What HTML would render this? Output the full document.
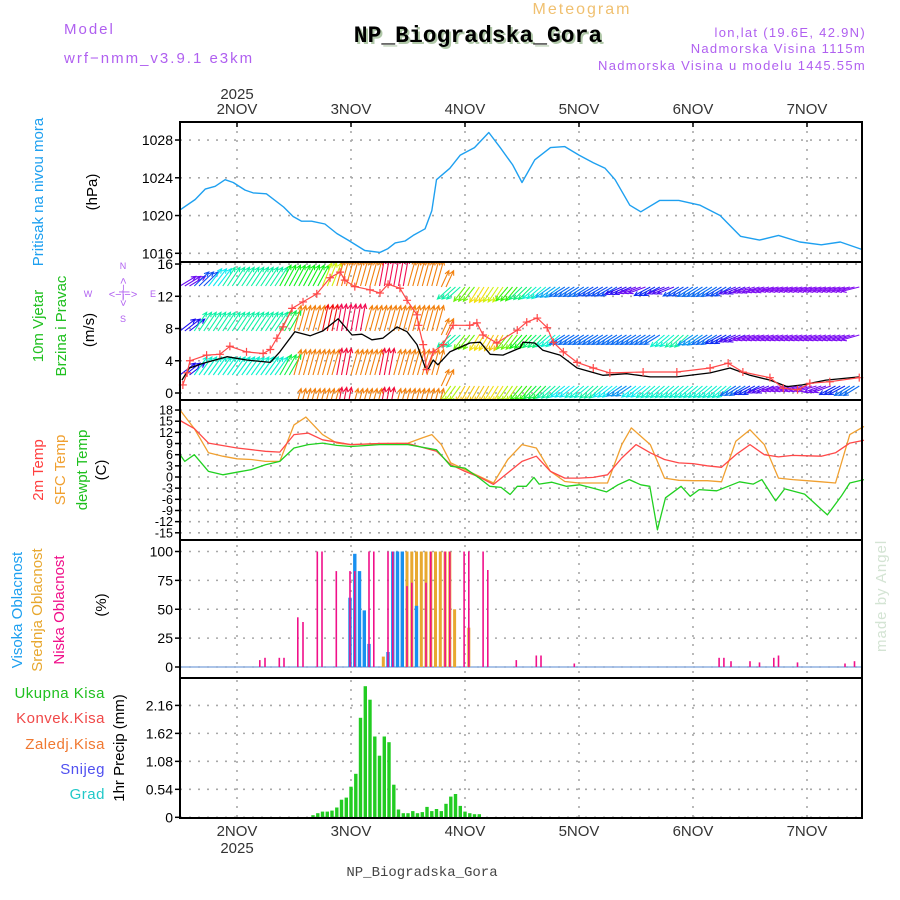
<!DOCTYPE html>
<html><head><meta charset="utf-8"><style>
html,body{margin:0;padding:0;background:#fff;}
svg{display:block;font-family:"Liberation Sans",sans-serif;}
</style></head><body>
<svg id="chart" width="900" height="900" viewBox="0 0 900 900" xmlns="http://www.w3.org/2000/svg">
<defs><clipPath id="windclip"><rect x="180" y="262" width="682" height="138"/></clipPath>
<clipPath id="plotclip"><rect x="180" y="122" width="682" height="696"/></clipPath></defs>
<g id="headers">
<text x="64" y="34" font-size="15" fill="#b060f0" letter-spacing="2">Model</text>
<text x="64" y="63" font-size="15" fill="#b060f0" letter-spacing="2">wrf−nmm_v3.9.1 e3km</text>
<text x="582" y="14" font-size="16" fill="#f0c070" letter-spacing="2" text-anchor="middle">Meteogram</text>
<text x="480" y="44" font-size="23" font-weight="bold" fill="#b0c8a8" text-anchor="middle" font-family="Liberation Mono, monospace">NP_Biogradska_Gora</text>
<text x="478" y="42" font-size="23" font-weight="bold" fill="#000" text-anchor="middle" font-family="Liberation Mono, monospace">NP_Biogradska_Gora</text>
<text x="866" y="37" font-size="13" fill="#b060f0" letter-spacing="1.3" text-anchor="end">lon,lat (19.6E, 42.9N)</text>
<text x="866" y="53" font-size="13" fill="#b060f0" letter-spacing="1.3" text-anchor="end">Nadmorska Visina 1115m</text>
<text x="866" y="70" font-size="13" fill="#b060f0" letter-spacing="1.3" text-anchor="end">Nadmorska Visina u modelu 1445.55m</text>
<text x="422" y="876" font-size="14" fill="#444" text-anchor="middle" font-family="Liberation Mono, monospace">NP_Biogradska_Gora</text>
<text transform="translate(886,652) rotate(-90)" font-size="15" fill="#d4e4d4" letter-spacing="1">made by Angel</text>
</g>
<g id="leftlabels">
<text transform="translate(43,192) rotate(-90)" font-size="15" fill="#1ea0f0" text-anchor="middle">Pritisak na nivou mora</text>
<text transform="translate(97,192) rotate(-90)" font-size="15" fill="#000" text-anchor="middle">(hPa)</text>
<text transform="translate(43,326) rotate(-90)" font-size="15" fill="#20c020" text-anchor="middle">10m Vjetar</text>
<text transform="translate(66,326) rotate(-90)" font-size="15" fill="#20c020" text-anchor="middle">Brzina i Pravac</text>
<text transform="translate(94,330) rotate(-90)" font-size="15" fill="#000" text-anchor="middle">(m/s)</text>
<g fill="#b060f0" font-size="9" text-anchor="middle">
<text x="123" y="269">N</text><text x="88" y="297">W</text><text x="153" y="297">E</text><text x="123" y="322">S</text>
<text x="123" y="298" font-size="11">&lt;−|−&gt;</text>
<text transform="translate(127,292) rotate(-90)" font-size="11" text-anchor="middle">&lt;−|−&gt;</text></g>
<text transform="translate(43,470) rotate(-90)" font-size="15" fill="#ff4040" text-anchor="middle">2m Temp</text>
<text transform="translate(65,470) rotate(-90)" font-size="15" fill="#f0a030" text-anchor="middle">SFC Temp</text>
<text transform="translate(87,470) rotate(-90)" font-size="15" fill="#20c020" text-anchor="middle">dewpt Temp</text>
<text transform="translate(106,470) rotate(-90)" font-size="15" fill="#000" text-anchor="middle">(C)</text>
<text transform="translate(22,610) rotate(-90)" font-size="15" fill="#1ea0f0" text-anchor="middle">Visoka Oblacnost</text>
<text transform="translate(42,610) rotate(-90)" font-size="15" fill="#e8a830" text-anchor="middle">Srednja Oblacnost</text>
<text transform="translate(64,610) rotate(-90)" font-size="15" fill="#f0108a" text-anchor="middle">Niska Oblacnost</text>
<text transform="translate(106,605) rotate(-90)" font-size="15" fill="#000" text-anchor="middle">(%)</text>
<g font-size="15" text-anchor="end" letter-spacing="0.5">
<text x="105" y="698" fill="#20c020">Ukupna Kisa</text>
<text x="105" y="723" fill="#f04848">Konvek.Kisa</text>
<text x="105" y="749" fill="#f07830">Zaledj.Kisa</text>
<text x="105" y="774" fill="#5050f0">Snijeg</text>
<text x="105" y="799" fill="#20c8c8">Grad</text></g>
<text transform="translate(124,748) rotate(-90)" font-size="15" fill="#000" text-anchor="middle">1hr Precip (mm)</text>
</g>
<g id="grid"></g>
<g id="marks"></g>
<g id="axes"></g>
</svg>
<script>
// ---------- data ----------
const dayLabels = ["2NOV","3NOV","4NOV","5NOV","6NOV","7NOV"];
const dayHours = [12,36,60,84,108,132];
const pressTicks = [1016,1020,1024,1028];
const windTicks = [0,4,8,12,16];
const tempTicks = [18,15,12,9,6,3,0,-3,-6,-9,-12,-15];
const cloudTicks = [0,25,50,75,100];
const precipTicks = ["0","0.54","1.08","1.62","2.16"];

const pressHours = [0,3.2,5.3,7.4,9.5,11.2,13.7,15.4,18.2,21.8,23.8,25.6,27.7,30.5,33,35.4,38.9,42.1,43.8,45.3,47.4,49.1,51.6,53,54,56.8,59,62,65,67.4,70,72,74.7,78,81,84,87,89.5,91.6,94.7,97,101,105,109.5,113.7,118,122,126,130.5,135,139,143.6];
const pressVals = [1020.6,1021.7,1022.8,1023.1,1023.8,1023.5,1022.7,1022.4,1022.3,1020.9,1019.9,1019.4,1019.4,1019.1,1018.1,1017.4,1016.3,1016.1,1016.5,1017.1,1017.3,1017.9,1018.6,1020.5,1023.8,1025,1026.4,1027.2,1028.8,1027.2,1025.4,1023.5,1025.9,1027.2,1027.3,1026.4,1025.6,1025,1023.8,1021.1,1020.4,1021.6,1021.6,1021.1,1020,1017.8,1017.4,1017.9,1017.2,1016.9,1017.2,1016.4];

const windHours = [0.4,2,4.9,9.9,14,19,21,24.2,27.4,30.1,33.3,36.2,38.3,40.4,42.7,45.7,47.8,49.9,51.6,52.2,53.3,54.3,56.8,61,63.2,65.3,68,71.6,72.2,74.7,76.4,80,83.6,89,94,99,104.6,111.6,115.8,120,124.2,127.8,131,136,143];
const windVals = [1.6,3.1,3.7,4.5,4.1,3.8,5.1,7.6,7.1,7.7,9.2,7.2,7.3,6.6,6.8,8.2,7.6,6,3.2,2.9,4.1,3.5,5.1,6.2,6.3,4.8,4.7,5.6,6.3,6.2,5.3,4.7,3.1,2.2,2.4,2,2,2.5,3.1,2.2,1.6,0.8,1,1.6,2];
const gustHours = [0.6,1.5,2.1,5.6,8.4,10.5,14,17.5,19,20.4,21.7,23.6,25.9,28.8,31.6,33.7,34.7,36.8,40,42.1,43.8,46.3,47.8,49.9,50.2,51.2,51.9,53.3,55.4,57.5,61,62.5,63.8,66.7,71,73,75.2,77.3,78.6,80.7,83.6,87,90.5,97.5,104.6,111.6,115.4,118.5,124.2,127,130,132.6,136.8,143];
const gustVals = [1,2.5,4,4.7,4.8,5.8,5.1,4.9,5.4,6.8,8.2,10.5,11.3,12.3,14.3,15,14,13.2,12.8,12.4,13.5,13,11.5,9.7,8.4,6,2.9,5.1,6,8.4,8.4,8.7,7.2,6.2,7.8,8.8,9.3,8.1,6.3,5.1,3.8,3.1,2.5,2.6,2.6,3.1,3.7,2.6,1.9,0.6,0.4,1.2,1.4,1.9];

// wind directions (deg, from) per 3-hour block, h = 3*i
const dirTop = [250,240,232,228,228,228,228,222,222,222,214,205,205,205,197,197,205,205,205,48,38,32,34,40,46,50,55,58,58,60,60,66,70,62,68,60,58,58,60,68,72,74,76,76,76,76,76,76];
const dirMid = [245,228,228,228,228,228,228,224,205,205,200,197,197,205,205,205,205,205,205,48,38,32,30,38,42,46,50,58,58,58,58,58,58,58,50,48,56,58,62,68,74,74,74,74,74,74,74,74];
const dirBot = [245,230,230,230,230,230,230,224,205,205,205,198,205,205,198,205,205,205,205,35,30,30,32,35,40,44,48,52,50,48,52,56,52,50,50,50,50,50,50,58,62,68,74,74,74,70,62,58];

const tempHours = [0,3,6,12,18,21,24,27,30,36,42,48,54,57,60,63,66,69,72,75,78,81,84,87,90,93,96,99,102,105,108,111,114,117,120,123,126,129,132,135,138,141,144];
const t2mVals = [15.2,13,9.1,7.8,6.9,6.7,11.4,11.8,10,8.7,9,9,6.9,3.3,1.5,0,-2,1.1,4.2,5.6,1.5,-0.3,-0.3,-0.1,0.6,5.1,8.7,6.5,4.7,3.8,3.6,3,2.6,6,8.7,6,5.4,5.8,5.7,5.6,6.5,9.1,9.9];
const sfcHours = [0,3,6,9,12,15,18,21,24,26.5,30,33,36,42,48,51,53,55,57,60,63,66,69,72,75,78,81,84,87,90,93,95,99,102,105,108,111,114,117,120,123,126,129,132,135,138,141,144];
const sfcVals = [18,13,6.5,5.6,4.9,4.7,4.2,4.2,14,16.1,11.4,9.1,8.7,9,9.1,10.5,11.4,8.7,3.8,2,0.2,-1.6,4.7,8.7,7.8,1.5,-1.2,-1.6,-1.6,-1.6,8.7,13.2,8.7,-0.3,-0.9,-1,-1,-1.3,9.6,12.7,8.7,-0.3,-0.7,-1,-1.3,-1.6,11.4,13.6];
const dewHours = [0,1,3,6,9,12,15,18,21,24,27,30,33,36,42,48,54,57,60,63,65.2,67.6,69.5,71,72.9,74.5,75.6,78.3,81.3,84.1,87,89.8,92.2,94.6,97,98.9,100.5,102.2,105.5,107.4,109.3,113,117.8,120.7,122.5,125.4,127.3,131.5,136.3,139.2,141,144];
const dewVals = [6,4.2,6,1.5,0.6,1.3,2,3.3,4.2,7.8,8.7,9.1,8.5,8.2,8.7,8.7,7.3,2.9,2.4,-0.3,-2.5,-2.8,-4.7,-2.5,-2.5,-0.1,-1.9,-1.4,-2.5,-2.1,-3,-4,-2.1,-0.7,-2.1,-2.5,-14.2,-5.6,-2.5,-5.2,-3.4,-3.7,-1.3,-1.9,-0.7,-6.4,-3.2,-4.6,-10.2,-5.2,-1.6,-0.7];

const lowHours = [16.8,17.9,20.9,21.9,24.8,25.9,28.9,29.9,32.9,35.8,36.8,39.8,40.8,43.8,44.8,47.8,48.8,51.8,52.8,55.8,56.8,59.8,60.8,63.8,64.8,70.8,75,76,83,113.5,114.5,116,120,122,125,126,130,140,142];
const lowVals = [6,8,8,8,43,39,100,100,83,83,83,100,100,100,100,70,73,73,100,100,100,100,100,100,84,6,10,10,3,8,8,5,5,4,8,10,4,3,5];
const midHours = [42.8,45.8,46.8,47.8,48.8,49.8,50.8,51.8,52.8,53.8,54.8,55.8,56.8,57.8,60.8];
const midVals = [9,10,67,100,100,100,100,100,100,100,100,100,100,50,34];
const highHours = [35.8,36.8,37.8,38.8,39.8,43.8,44.8,45.8,46.8,49.8];
const highVals = [60,98,83,49,20,13,100,100,100,53];

const precipStart = 28;
const precipVals = [0.04,0.08,0.11,0.11,0.13,0.19,0.34,0.38,0.59,0.84,1.92,2.53,2.27,1.56,1.19,1.56,1.45,0.63,0.15,0.08,0.08,0.12,0.08,0.1,0.2,0.12,0.16,0.12,0.26,0.4,0.45,0.22,0.11,0.08,0.06,0.06];

// ---------- scales ----------
const NS="http://www.w3.org/2000/svg";
const X0=180,X1=862,PX=4.75;
const xh=h=>X0+h*PX;
const yP=p=>253.3-(p-1016)*9.44;
const yW=v=>393-v*8.06;
const yT=t=>477-t*3.72;
const yC=c=>667-c*1.155;
const yR=r=>817.3-r*51.8;
const panels=[[122,262],[262,400],[400,540],[540,678],[678,818]];

function el(tag,attrs,parent){const e=document.createElementNS(NS,tag);for(const k in attrs)e.setAttribute(k,attrs[k]);parent.appendChild(e);return e;}
const grid=document.getElementById('grid'),marks=document.getElementById('marks'),axes=document.getElementById('axes');

function hgrid(y){const l=el('line',{x1:X0,x2:X1,y1:y,y2:y,stroke:'#a8a8a8','stroke-width':1.6,'stroke-dasharray':'2,7'},grid);

}
pressTicks.forEach(p=>hgrid(yP(p)));
windTicks.forEach(v=>hgrid(yW(v)));
tempTicks.forEach(t=>hgrid(yT(t)));
cloudTicks.forEach(c=>hgrid(yC(c)));
precipTicks.forEach(r=>hgrid(yR(+r)));
dayHours.forEach(h=>{const l=el('line',{x1:xh(h),x2:xh(h),y1:122,y2:818,stroke:'#a8a8a8','stroke-width':1.6,'stroke-dasharray':'2,7'},grid);

});

function poly(hs,vs,fy,color,w,name,parent){const pts=hs.map((h,i)=>xh(h).toFixed(1)+','+fy(vs[i]).toFixed(1)).join(' ');
const p=el('polyline',{points:pts,fill:'none',stroke:color,'stroke-width':w,'stroke-linejoin':'round'},parent||marks);

return p;}

poly(pressHours,pressVals,yP,'#1ea0f0',1.4,'pressure-line');

const wg=el('g',{'clip-path':'url(#windclip)'},marks);


const hueT=[15,25,32,40,48,58,70,80],hueV=[330,390,415,470,520,575,625,635];
function hueOf(d){const t=d%180;if(t<=hueT[0])return hueV[0]%360;for(let i=1;i<hueT.length;i++)if(t<=hueT[i]){const f=(t-hueT[i-1])/(hueT[i]-hueT[i-1]);return (hueV[i-1]+f*(hueV[i]-hueV[i-1]))%360;}return hueV[hueV.length-1]%360;}
function arrow(h,d,base){const x=xh(h),left=h<=54,L=left?28:18;const th=(d+180)*Math.PI/180;
const sx=left?0.6:1;
const dx=Math.sin(th)*L*sx,dy=-Math.cos(th)*L;const x2=x+dx,y2=base+dy;const col='hsl('+hueOf(d).toFixed(0)+',90%,50%)';
const a=Math.atan2(dy,dx);const hl=5;
const d1=`M${x.toFixed(1)},${base.toFixed(1)}L${x2.toFixed(1)},${y2.toFixed(1)}M${(x2-hl*Math.cos(a-0.45)).toFixed(1)},${(y2-hl*Math.sin(a-0.45)).toFixed(1)}L${x2.toFixed(1)},${y2.toFixed(1)}L${(x2-hl*Math.cos(a+0.45)).toFixed(1)},${(y2-hl*Math.sin(a+0.45)).toFixed(1)}`;
const p=el('path',{d:d1,stroke:col,'stroke-width':1.1,fill:'none'},wg);

}
const rowsLeft=[286,331,375],rowsRight=[287,335,386];
[dirTop,dirMid,dirBot].forEach((arr,r)=>{arr.forEach((d,i)=>{for(let k=0;k<3;k++){const h=i*3+k;if(h>143)continue;arrow(h,d,h<=54?rowsLeft[r]:rowsRight[r]);}});});
dirBot.forEach((d,i)=>{for(let k=0;k<3;k++){const h=i*3+k;if(h>=24&&h<=54)arrow(h,d,414);}});

poly(windHours,windVals,yW,'#000',1.3,'wind-speed-line');
poly(gustHours,gustVals,yW,'#ff4848',1.2,'wind-gust-line');
gustHours.forEach((h,i)=>{const x=xh(h),y=yW(gustVals[i]);const m=el('path',{d:`M${x-4},${y}h8M${x},${y-4}v8`,stroke:'#ff4848','stroke-width':1.2},marks);

});

poly(sfcHours,sfcVals,yT,'#f0a030',1.3,'sfc-temp-line');
poly(tempHours,t2mVals,yT,'#ff4848',1.3,'temp-2m-line');
poly(dewHours,dewVals,yT,'#20d020',1.3,'dewpoint-line');

el('line',{x1:X0,x2:X1,y1:yC(0),y2:yC(0),stroke:'#8fb0e0','stroke-width':1.5},marks);
function bars(hs,vs,w,col,name){hs.forEach((h,i)=>{const y=yC(vs[i]);const r=el('rect',{x:(xh(h)-w/2).toFixed(1),y:y.toFixed(1),width:w,height:(yC(0)-y).toFixed(1),fill:col},marks);

});}
bars(midHours,midVals,3,'#e8a830','mid-cloud-bar');
bars(highHours,highVals,3.4,'#1890f0','high-cloud-bar');
bars(lowHours,lowVals,1.6,'#f0108a','low-cloud-bar');

precipVals.forEach((v,i)=>{const h=precipStart+i;const y=yR(v);const r=el('rect',{x:(xh(h)-1.7).toFixed(1),y:y.toFixed(1),width:3.4,height:(yR(0)-y).toFixed(1),fill:'#22cc22'},marks);

});

panels.forEach(([a,b])=>{const r=el('rect',{x:X0,y:a,width:X1-X0,height:b-a,fill:'none',stroke:'#000','stroke-width':2},axes);

});
function ytick(y,label,fs){el('line',{x1:X0-5,x2:X0,y1:y,y2:y,stroke:'#000','stroke-width':1.5},axes);
const t=el('text',{x:X0-7,y:y+fs*0.36,'font-size':fs,'text-anchor':'end',fill:'#000'},axes);t.textContent=label;

}
pressTicks.forEach(p=>ytick(yP(p),String(p),14));
windTicks.forEach(v=>ytick(yW(v),String(v),14));
tempTicks.forEach(t=>ytick(yT(t),String(t),12.5));
cloudTicks.forEach(c=>ytick(yC(c),String(c),14));
precipTicks.forEach(r=>ytick(yR(+r),r,14));
dayHours.forEach((h,i)=>{const x=xh(h);
el('line',{x1:x,x2:x,y1:122,y2:127,stroke:'#000','stroke-width':1.5},axes);
const t=el('text',{x:x,y:114,'font-size':15,'text-anchor':'middle',fill:'#333'},axes);t.textContent=dayLabels[i];


const b=el('text',{x:x,y:836,'font-size':15,'text-anchor':'middle',fill:'#333'},axes);b.textContent=dayLabels[i];

});
const y1=el('text',{x:xh(12),y:99,'font-size':15,'text-anchor':'middle',fill:'#333'},axes);y1.textContent='2025';


const y2=el('text',{x:xh(12),y:853,'font-size':15,'text-anchor':'middle',fill:'#333'},axes);y2.textContent='2025';


</script>
</body></html>
